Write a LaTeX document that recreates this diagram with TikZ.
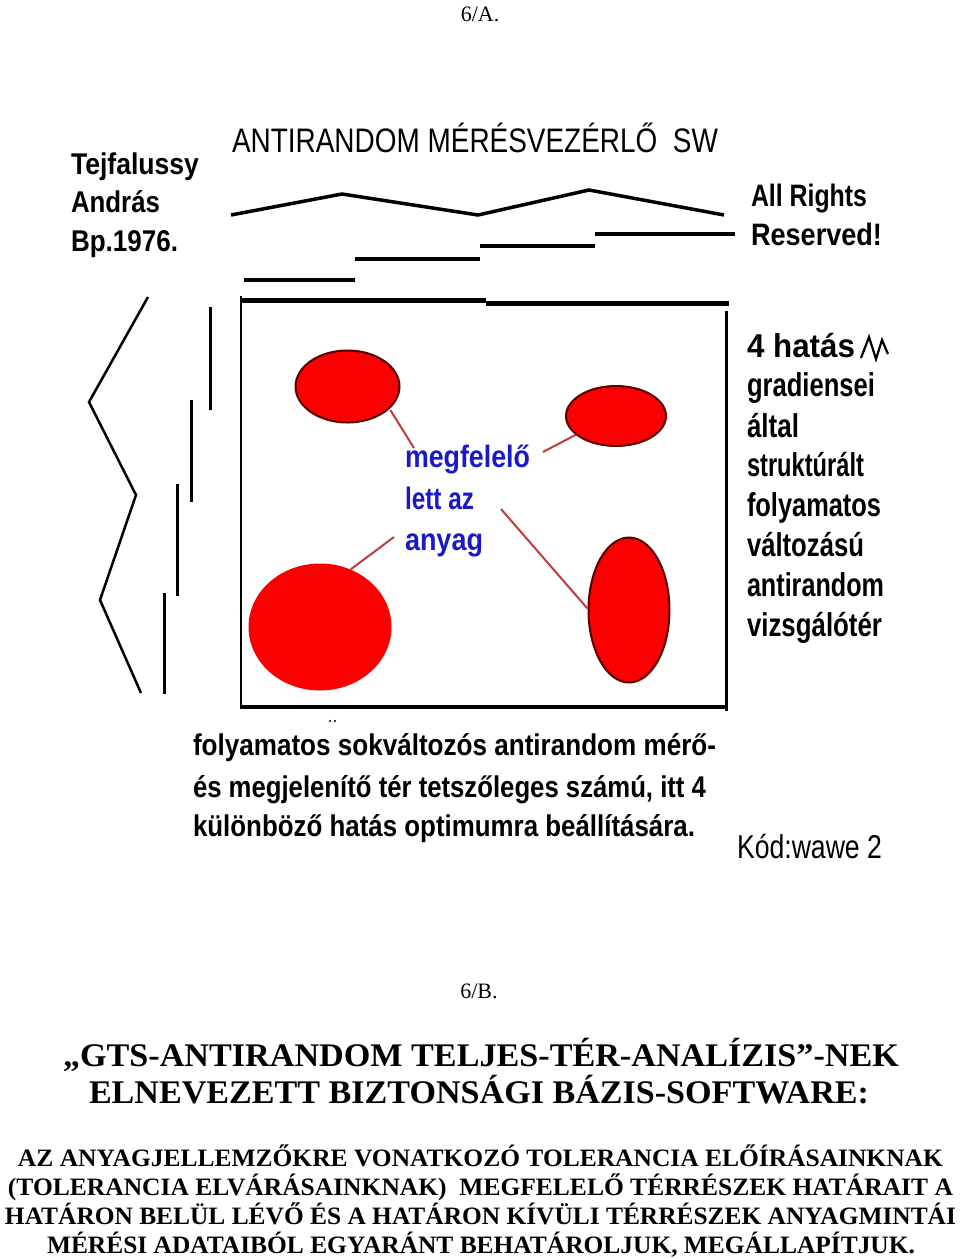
\documentclass[tikz,border=0pt]{standalone}
\usepackage{fontspec}
\setmainfont{Liberation Serif}
\setsansfont{Liberation Sans}
\usepackage{graphicx}
\usetikzlibrary{shapes.geometric}
\definecolor{linkred}{RGB}{190,60,60}
\definecolor{blobline}{RGB}{90,0,0}
\definecolor{txtblue}{RGB}{25,25,200}
\definecolor{blobred}{RGB}{250,0,0}
\newcommand\fitw[3]{\resizebox{#1pt}{\height}{\fontsize{#2}{#2}\selectfont #3}}
\begin{document}
\begin{tikzpicture}[x=1pt,y=-1pt,
  lbl/.style={anchor=base west,inner sep=0pt,outer sep=0pt,font=\sffamily},
  lblb/.style={lbl,font=\sffamily\bfseries},
  blu/.style={lblb,text=txtblue},
  ser/.style={anchor=base west,inner sep=0pt,outer sep=0pt,font=\rmfamily\bfseries},
  serc/.style={anchor=base,inner sep=0pt,outer sep=0pt,font=\rmfamily},
  blob/.style={ellipse,draw=blobline,line width=2pt,fill=blobred,inner sep=0pt},
  bigblob/.style={ellipse,fill=blobred,inner sep=0pt},
  link/.style={draw=linkred,line width=2pt},
  ink/.style={draw=black,line width=#1}]
\useasboundingbox[fill=white] (0,0) rectangle (960,1259);

% page labels
\node[serc] (pa) at (480,21) {\fontsize{22}{22}\selectfont 6/A.};
\node[serc] (pb) at (479,998) {\fontsize{22}{22}\selectfont 6/B.};

% top texts
\node[lbl] (title) at (232,152) {\fitw{486}{34}{ANTIRANDOM MÉRÉSVEZÉRLŐ\ \ SW}};
\node[lblb] (au1) at (71,174) {\fitw{128}{30}{Tejfalussy}};
\node[lblb] (au2) at (71,212) {\fitw{89}{30}{András}};
\node[lblb] (au3) at (71,251) {\fitw{107}{30}{Bp.1976.}};
\node[lblb] (rr1) at (751,206) {\fitw{116}{31}{All Rights}};
\node[lblb] (rr2) at (751,245) {\fitw{131}{31}{Reserved!}};

% top zigzag and steps
\draw[ink=3.5pt,line join=miter] (231,215) coordinate (z0) -- (342,194) coordinate (z1) -- (478,215) coordinate (z2) -- (589,190) coordinate (z3) -- (724,215) coordinate (z4);
\draw[ink=4pt] (244,280) coordinate (s1a) -- (355,280) coordinate (s1b);
\draw[ink=4pt] (355,259) coordinate (s2a) -- (480,259) coordinate (s2b);
\draw[ink=4pt] (480,246) coordinate (s3a) -- (595,246) coordinate (s3b);
\draw[ink=4pt] (595,234) coordinate (s4a) -- (735,234) coordinate (s4b);

% box
\draw[ink=5pt] (240,300) coordinate (bt0) -- (486,300) coordinate (bt1);
\draw[ink=5pt] (486,303) coordinate (bt2) -- (729,303) coordinate (bt3);
\draw[ink=2.5pt] (241,296) coordinate (bl0) -- (241,709) coordinate (bl1);
\draw[ink=3pt] (726,311) coordinate (br0) -- (726,711) coordinate (br1);
\draw[ink=4.5pt] (240,707) coordinate (bb0) -- (728,707) coordinate (bb1);

% left zigzag and verticals
\draw[ink=2.5pt] (148,297) coordinate (l0) -- (89,402) coordinate (l1) -- (136,495) coordinate (l2) -- (100,600) coordinate (l3) -- (141,693) coordinate (l4);
\draw[ink=3pt] (210,307) coordinate (v1a) -- (210,410) coordinate (v1b);
\draw[ink=3pt] (191,400) coordinate (v2a) -- (191,502) coordinate (v2b);
\draw[ink=3pt] (177,484) coordinate (v3a) -- (177,596) coordinate (v3b);
\draw[ink=3pt] (164,593) coordinate (v4a) -- (164,694) coordinate (v4b);

% blobs
\node[blob,minimum width=104pt,minimum height=72pt] (e1) at (347.5,386.5) {};
\node[blob,minimum width=100pt,minimum height=60pt] (e2) at (616,416) {};
\node[bigblob,minimum width=143pt,minimum height=127pt] (e3) at (320,627) {};
\node[blob,minimum width=81pt,minimum height=145pt] (e4) at (629,610) {};

% blue text
\node[blu] (m1) at (405,467) {\fitw{125}{31}{megfelelő}};
\node[blu] (m2) at (405,509) {\fitw{69}{31}{lett az}};
\node[blu] (m3) at (405,550) {\fitw{78}{31}{anyag}};

% links
\coordinate (k1) at (414,448);
\coordinate (k2) at (543,452);
\coordinate (k3) at (394,537);
\coordinate (k4) at (501,509);
\draw[link] (e1.-30) ++(2,0) coordinate (k1s) (k1s) -- (k1);
\draw[link] (e2.205) coordinate (k2s) -- (k2);
\draw[link] (e3.62) coordinate (k3s) -- (k3);
\draw[link] (e4.178) coordinate (k4s) -- (k4);

% right text
\node[lblb] (r1) at (747,357) {\fitw{108}{33}{4 hatás}};
\draw[ink=2.2pt,line join=miter] (861,358) coordinate (w0) -- (869,337) coordinate (w1) -- (876,359) coordinate (w2) -- (882,340) coordinate (w3) -- (888,354) coordinate (w4);
\node[lblb] (r2) at (747,396) {\fitw{128}{33}{gradiensei}};
\node[lblb] (r3) at (747,437) {\fitw{52}{33}{által}};
\node[lblb] (r4) at (747,476) {\fitw{117}{33}{struktúrált}};
\node[lblb] (r5) at (747,516) {\fitw{134}{33}{folyamatos}};
\node[lblb] (r6) at (747,556) {\fitw{117}{33}{változású}};
\node[lblb] (r7) at (747,596) {\fitw{137}{33}{antirandom}};
\node[lblb] (r8) at (747,636) {\fitw{135}{33}{vizsgálótér}};

% caption
\fill (330,721) circle (1.1pt) (335,721) circle (1.1pt);
\node[lblb] (c1) at (193,755) {\fitw{523}{30}{folyamatos sokváltozós antirandom mérő-}};
\node[lblb] (c2) at (193,797) {\fitw{513}{30}{és megjelenítő tér tetszőleges számú, itt 4}};
\node[lblb] (c3) at (193,836) {\fitw{502}{30}{különböző hatás optimumra beállítására.}};
\node[lbl] (kod) at (737,858) {\fitw{145}{33}{Kód:wawe 2}};

% lower section
\node[ser] (t1) at (63,1066) {\fitw{836}{33}{„GTS-ANTIRANDOM TELJES-TÉR-ANALÍZIS”-NEK}};
\node[ser] (t2) at (89,1103) {\fitw{780}{33}{ELNEVEZETT BIZTONSÁGI BÁZIS-SOFTWARE:}};
\node[ser] (b1) at (18,1166) {\fitw{925}{25}{AZ ANYAGJELLEMZŐKRE VONATKOZÓ TOLERANCIA ELŐÍRÁSAINKNAK}};
\node[ser] (b2) at (8,1195) {\fitw{945}{25}{(TOLERANCIA ELVÁRÁSAINKNAK)\ \ MEGFELELŐ TÉRRÉSZEK HATÁRAIT A}};
\node[ser] (b3) at (5,1224) {\fitw{951}{25}{HATÁRON BELÜL LÉVŐ ÉS A HATÁRON KÍVÜLI TÉRRÉSZEK ANYAGMINTÁI}};
\node[ser] (b4) at (47,1253) {\fitw{868}{25}{MÉRÉSI ADATAIBÓL EGYARÁNT BEHATÁROLJUK, MEGÁLLAPÍTJUK.}};
\end{tikzpicture}
\end{document}
